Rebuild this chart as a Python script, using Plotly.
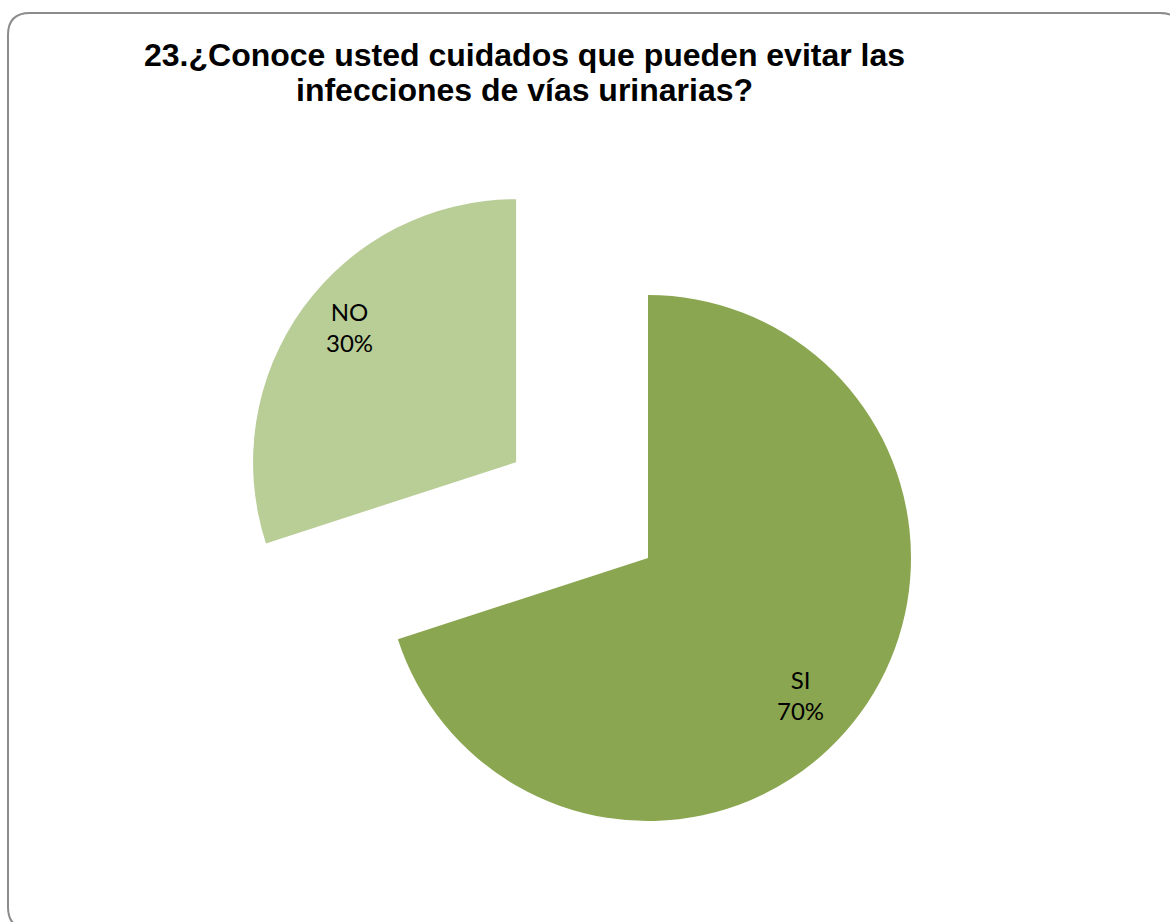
import math
import plotly.graph_objects as go

# Survey answers
labels = ["SI", "NO"]
values = [70, 30]
colors = ["#8BA650", "#B9CD97"]
pulls = [0.0, 0.62]

title_lines = [
    "23.¿Conoce usted cuidados que pueden evitar las",
    "infecciones de vías urinarias?",
]

W, H = 1170, 922
CX, CY, R = 648, 558, 263          # pie centre / radius in pixels
LABEL_RADIUS = [0.78, 0.815]
LABEL_SHIFT_DEG = [6, 3]

total = sum(values)
fig = go.Figure()

start = 0.0
annotations = []
for i, (lab, val) in enumerate(zip(labels, values)):
    frac = val / total
    mid = math.radians((start + frac / 2) * 360)   # clockwise from 12 o'clock
    dx, dy = math.sin(mid), -math.cos(mid)          # screen offsets (y down)
    cx = CX + pulls[i] * R * dx
    cy = CY + pulls[i] * R * dy
    slice_colors = ["rgba(0,0,0,0)"] * len(values)
    slice_colors[i] = colors[i]
    fig.add_trace(go.Pie(
        labels=labels, values=values, sort=False, direction="clockwise",
        rotation=0, marker=dict(colors=slice_colors, line=dict(width=0)),
        textinfo="none", hoverinfo="skip", showlegend=False,
        domain=dict(x=[(cx - R) / W, (cx + R) / W],
                    y=[1 - (cy + R) / H, 1 - (cy - R) / H]),
    ))
    la = mid + math.radians(LABEL_SHIFT_DEG[i])
    lx = cx + LABEL_RADIUS[i] * R * math.sin(la)
    ly = cy - LABEL_RADIUS[i] * R * math.cos(la)
    annotations.append(dict(
        x=lx / W, y=1 - ly / H, xref="paper", yref="paper",
        text=f"{lab}<br>{round(frac * 100)}%", showarrow=False,
        font=dict(family="Lato, Liberation Sans, Arial", size=24, color="#000"),
        xanchor="center", yanchor="middle",
    ))
    start += frac

# two-line bold title
for j, line in enumerate(title_lines):
    annotations.append(dict(
        x=524 / W, y=1 - (63 + 35 * j) / H, xref="paper", yref="paper",
        text=f"<b>{line}</b>", showarrow=False,
        font=dict(family="Liberation Sans, Arial", size=32, color="#000"),
        xanchor="center", yanchor="bottom", yshift=-12,
    ))

# rounded chart-area frame
L, T, Rt, B, rad = 8, 13, 1182, 929, 22
def px(x, y):
    return f"{x / W:.5f},{1 - y / H:.5f}"
path = (f"M {px(L + rad, T)} L {px(Rt - rad, T)} Q {px(Rt, T)} {px(Rt, T + rad)} "
        f"L {px(Rt, B - rad)} Q {px(Rt, B)} {px(Rt - rad, B)} "
        f"L {px(L + rad, B)} Q {px(L, B)} {px(L, B - rad)} "
        f"L {px(L, T + rad)} Q {px(L, T)} {px(L + rad, T)} Z")

fig.update_layout(
    width=W, height=H,
    margin=dict(l=0, r=0, t=0, b=0),
    paper_bgcolor="white", plot_bgcolor="white",
    annotations=annotations,
    shapes=[dict(type="path", path=path, xref="paper", yref="paper",
                 line=dict(color="#8C8C8C", width=2), layer="below")],
)

fig.write_html("out.html")
